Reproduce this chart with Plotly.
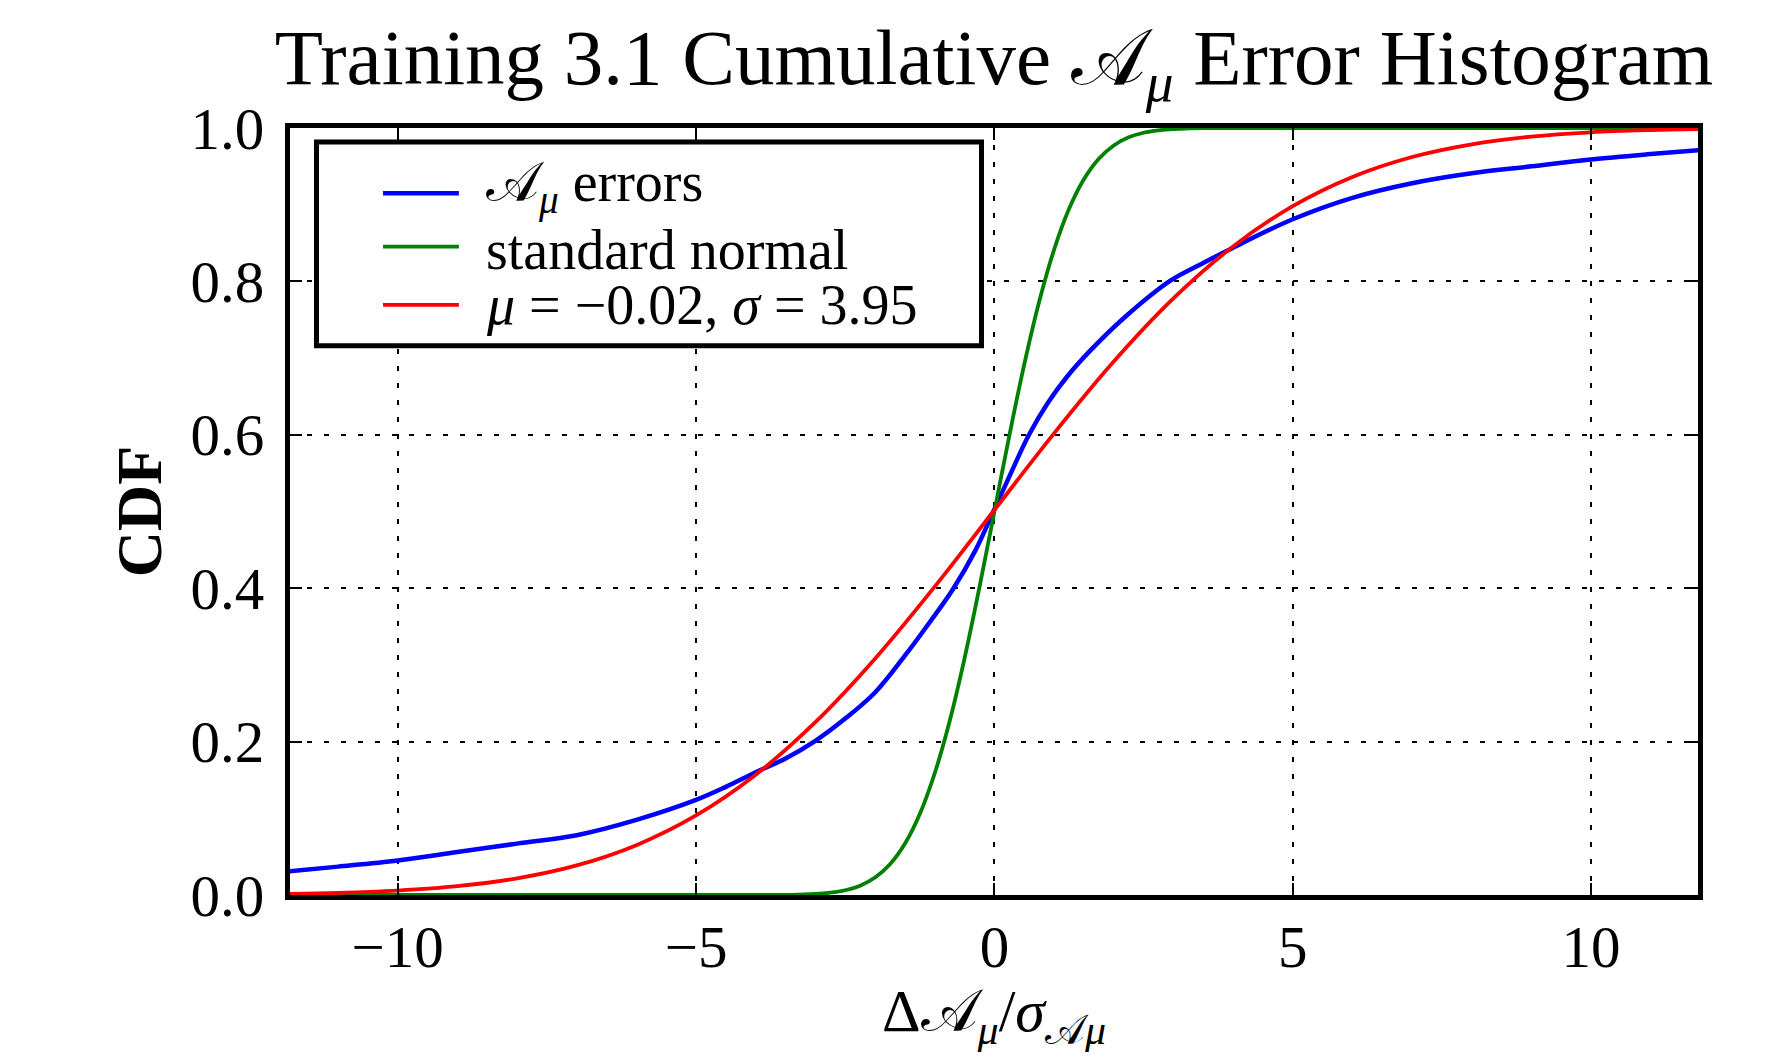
import plotly.graph_objects as go

blue_x = [-11.82, -11, -10, -9, -8, -7, -6, -5, -4.5, -4, -3.5, -3, -2.5, -2, -1.5,
          -1.09, -0.7, -0.32, 0, 0.2, 0.58, 0.9, 1.22, 1.61, 2.18, 2.95, 3.5,
          3.95, 5, 6, 7, 8, 9, 10, 11, 11.8]
blue_y = [0.031, 0.037, 0.045, 0.056, 0.067, 0.078, 0.098, 0.124, 0.141, 0.160, 0.178,
          0.201, 0.230, 0.264, 0.312, 0.355, 0.398, 0.449, 0.503, 0.537, 0.600,
          0.642, 0.676, 0.710, 0.753, 0.801, 0.824, 0.842, 0.881, 0.909, 0.928, 0.941,
          0.950, 0.959, 0.966, 0.971]

# Standard normal CDF curve
green_x = [-11.82, -3.5, -3.25, -3, -2.75, -2.5, -2.25, -2, -1.75, -1.5, -1.25, -1, -0.75,
           -0.5, -0.25, 0, 0.25, 0.5, 0.75, 1, 1.25, 1.5, 1.75, 2, 2.25, 2.5, 2.75, 3,
           3.25, 3.5, 11.8]
green_y = [0.0, 0.0002, 0.0006, 0.0013, 0.0030, 0.0062, 0.0122, 0.0228, 0.0401, 0.0668,
           0.1056, 0.1587, 0.2266, 0.3085, 0.4013, 0.5, 0.5987, 0.6915, 0.7734, 0.8413,
           0.8944, 0.9332, 0.9599, 0.9772, 0.9878, 0.9938, 0.9970, 0.9987, 0.9994,
           0.9998, 1.0]

# Fitted normal CDF curve, mu=-0.02, sigma=3.95
red_x = [-11.82, -11, -10, -9, -8, -7, -6, -5, -4, -3, -2, -1, 0, 1, 2, 3, 4, 5, 6, 7,
         8, 9, 10, 11, 11.8]
red_y = [0.0014, 0.0027, 0.0058, 0.0115, 0.0217, 0.0386, 0.0650, 0.1037, 0.1568, 0.2253,
         0.3081, 0.4020, 0.5020, 0.6019, 0.6955, 0.7778, 0.8456, 0.8981, 0.9362, 0.9622,
         0.9788, 0.9888, 0.9944, 0.9973, 0.9987]

x_tickvals = [-10, -5, 0, 5, 10]
x_ticktext = ["\u221210", "\u22125", "0", "5", "10"]
y_tickvals = [0.0, 0.2, 0.4, 0.6, 0.8, 1.0]
y_ticktext = ["0.0", "0.2", "0.4", "0.6", "0.8", "1.0"]

A = "\U0001D49C"
MU = "<i>\u03bc</i>"
SIG = "<i>\u03c3</i>"
series_names = [f"{A}<sub>{MU}</sub> errors", "standard normal",
                f"{MU} = \u22120.02, {SIG} = 3.95"]
series_colors = ["#0000ff", "#008000", "#ff0000"]
x_title = f"\u0394{A}<sub>{MU}</sub>/{SIG}<sub>{A}{MU}</sub>"
FONT = "Liberation Serif"

# ---- layout geometry (the page body has an 8px margin) ----
OFF = 8
W_FIG, H_FIG = 1785 - 2 * OFF, 1060 - 2 * OFF
L, R, T, B = 281.5, 78.5, 120, 156.5
PW, PH = W_FIG - L - R, H_FIG - T - B


def px(xp):
    return (xp - OFF - L) / PW


def py(yp):
    return 1 - (yp - OFF - T) / PH


fig = go.Figure()
widths = [4.5, 3.8, 3.8]
for xs, ys, name, col, w in zip([blue_x, green_x, red_x], [blue_y, green_y, red_y],
                                series_names, series_colors, widths):
    fig.add_trace(go.Scatter(x=xs, y=ys, mode="lines", name=name, showlegend=False,
                             line=dict(color=col, width=w, shape="spline", smoothing=1.0)))

axis_common = dict(
    showline=True, linewidth=5, linecolor="black", mirror="ticks",
    ticks="inside", ticklen=12, tickwidth=2, tickcolor="black",
    showgrid=True, gridcolor="black", griddash="5px,12px", gridwidth=2,
    zeroline=False,
    tickfont=dict(family=FONT, size=59, color="black"),
)

# legend drawn as a framed box with sample lines and labels
shapes = [dict(type="rect", xref="paper", yref="paper", layer="above",
               x0=px(316), x1=px(981.5), y0=py(345.8), y1=py(142),
               line=dict(color="black", width=5), fillcolor="white")]
annotations = []
row_line_y = [193.3, 246.7, 305]
row_text_y = [187, 250, 305]
for name, col, w, ly, ty in zip(series_names, series_colors, widths, row_line_y, row_text_y):
    shapes.append(dict(type="line", xref="paper", yref="paper", layer="above",
                       x0=px(382.6), x1=px(458.5), y0=py(ly), y1=py(ly),
                       line=dict(color=col, width=w)))
    annotations.append(dict(text=name, xref="paper", yref="paper", x=px(484), y=py(ty),
                            xanchor="left", yanchor="middle", showarrow=False,
                            font=dict(family=FONT, size=56, color="black")))

# x-axis title (placed as text so it may reach the bottom edge like the original)
annotations.append(dict(text=x_title, xref="paper", yref="paper", x=0.5, y=py(977),
                        xanchor="center", yanchor="top", showarrow=False,
                        font=dict(family=FONT, size=60, color="black")))

fig.update_layout(
    width=W_FIG, height=H_FIG,
    margin=dict(l=L, r=R, t=T, b=B, autoexpand=False),
    paper_bgcolor="white", plot_bgcolor="white",
    title=dict(text=f"Training 3.1 Cumulative {A}<sub>{MU}</sub> Error Histogram",
               x=0.5, xref="paper", xanchor="center",
               y=0.980, yref="container", yanchor="top",
               font=dict(family=FONT, size=79, color="black")),
    xaxis=dict(range=[-11.805, 11.792], tickvals=x_tickvals, ticktext=x_ticktext,
               ticklabelstandoff=-4, automargin=False, **axis_common),
    yaxis=dict(range=[0, 1], tickvals=y_tickvals, ticktext=y_ticktext,
               title=dict(text="<b>CDF</b>", font=dict(family=FONT, size=64, color="black"),
                          standoff=10),
               ticklabelstandoff=9, automargin=False, **axis_common),
    shapes=shapes,
    annotations=annotations,
    showlegend=False,
)

fig.write_html("out.html")
